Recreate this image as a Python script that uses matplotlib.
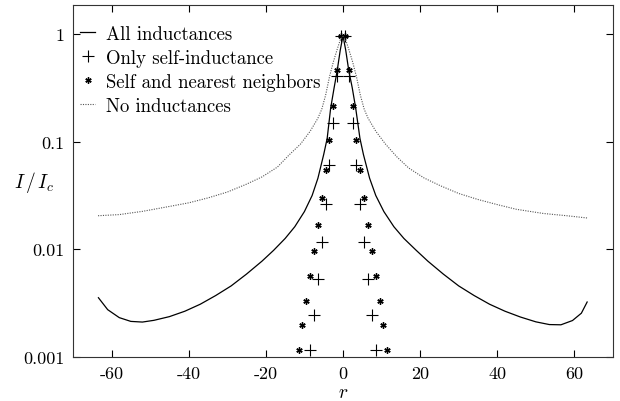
import matplotlib
matplotlib.use("Agg")
import matplotlib.pyplot as plt
from matplotlib.ticker import FixedLocator, FixedFormatter, NullLocator

plt.rcParams['font.family'] = ['cmr10', 'DejaVu Serif']
plt.rcParams['mathtext.fontset'] = 'cm'
plt.rcParams['axes.unicode_minus'] = False
plt.rcParams['axes.formatter.use_mathtext'] = False

# All inductances (solid)
r_all = [-63.4, -61, -58, -55, -52, -49, -45, -41, -37, -33, -29, -25, -21, -18,
         -15, -12.5, -10, -8, -6.5, -5, -4.1, -3.2, -2.3, -1.5, -0.7, 0,
         0.7, 1.5, 2.4, 3.3, 4.4, 5.3, 6.9, 8.5, 10.6, 13.2, 15.8, 19, 22, 26,
         30, 34, 38, 42, 46, 50, 53.5, 56.5, 59.5, 61.8, 63.3]
i_all = [0.00355, 0.00275, 0.00232, 0.00214, 0.00211, 0.00219, 0.00237, 0.00266,
         0.00309, 0.00372, 0.00457, 0.00589, 0.00776, 0.00977, 0.0126, 0.0162,
         0.0224, 0.0316, 0.0457, 0.0759, 0.107, 0.204, 0.316, 0.457, 0.71, 0.96,
         0.71, 0.457, 0.316, 0.204, 0.107, 0.0759, 0.0457, 0.0316, 0.0224,
         0.0162, 0.0126, 0.00977, 0.00776, 0.00589, 0.00457, 0.00372, 0.00309,
         0.00266, 0.00235, 0.00212, 0.00200, 0.00199, 0.00218, 0.00255, 0.00324]

# No inductances (dotted)
r_none = [-63.5, -58, -52, -45, -40, -35, -30, -25.2, -21, -17, -14, -11, -8.5,
          -6.5, -5.5, -4.5, -3.5, -2.5, -1.5, -0.7, 0, 0.7, 1.5, 2.5, 3.5, 4.5,
          5.5, 6.5, 8.5, 11, 14, 17, 21, 25.2, 30, 35, 40, 45, 52, 58, 63.5]
i_none = [0.0205, 0.021, 0.0225, 0.025, 0.027, 0.030, 0.034, 0.040, 0.047, 0.058,
          0.075, 0.095, 0.125, 0.165, 0.20, 0.27, 0.40, 0.55, 0.72, 0.88, 0.95,
          0.88, 0.72, 0.55, 0.40, 0.27, 0.20, 0.165, 0.125, 0.095, 0.072, 0.057,
          0.046, 0.039, 0.033, 0.029, 0.026, 0.0235, 0.0215, 0.0205, 0.0195]

# Only self-inductance (+)
r_self = [-8.5, -7.5, -6.5, -5.5, -4.5, -3.5, -2.5, -1.5, -0.5,
          0.5, 1.5, 2.5, 3.5, 4.5, 5.5, 6.5, 7.5, 8.5]
i_self = [0.00117, 0.00247, 0.00531, 0.0116, 0.0263, 0.0612, 0.150, 0.403, 0.95,
          0.95, 0.403, 0.150, 0.0612, 0.0263, 0.0116, 0.00531, 0.00247, 0.00117]

# Self and nearest neighbors (*)
r_nn = [-11.5, -10.5, -9.5, -8.5, -7.5, -6.5, -5.5, -4.5, -3.5, -2.5, -1.5, -0.5,
        0.5, 1.5, 2.5, 3.5, 4.5, 5.5, 6.5, 7.5, 8.5, 9.5, 10.5, 11.5]
i_nn = [0.00117, 0.00198, 0.00332, 0.00562, 0.00964, 0.0168, 0.0301, 0.0542,
        0.104, 0.212, 0.467, 0.95,
        0.95, 0.467, 0.212, 0.104, 0.0542, 0.0301, 0.0168, 0.00964, 0.00562,
        0.00332, 0.00198, 0.00117]

yticks = [0.001, 0.01, 0.1, 1]
ytick_labels = ['0.001', '0.01', '0.1', '1']
xticks = [-60, -40, -20, 0, 20, 40, 60]

fig = plt.figure(figsize=(6.2, 4.02), dpi=100)
ax = fig.add_axes([0.1177, 0.1095, 0.871, 0.8755])

ax.plot(r_all, i_all, '-', color='black', lw=0.9, label='All inductances')
ax.plot(r_self, i_self, linestyle='none', marker='+', color='black',
        markersize=8, markeredgewidth=0.8, label='Only self-inductance')
ax.plot(r_nn, i_nn, linestyle='none', marker=(6, 2, 0), color='black',
        markersize=4.5, markeredgewidth=1.0, label='Self and nearest neighbors')
ax.plot(r_none, i_none, linestyle=(0, (1, 1.2)), color='#555555', lw=0.8,
        label='No inductances')

ax.set_yscale('log')
ax.set_xlim(-70, 70)
ax.set_ylim(0.001, 1.855)
ax.yaxis.set_major_locator(FixedLocator(yticks))
ax.yaxis.set_major_formatter(FixedFormatter(ytick_labels))
ax.yaxis.set_minor_locator(NullLocator())
ax.set_xticks(xticks)
ax.set_xticklabels([str(v) for v in xticks])

ax.tick_params(axis='both', which='major', direction='in', length=5, width=0.8,
               top=True, right=True, labelsize=13, pad=6)
for s in ax.spines.values():
    s.set_linewidth(0.8)
    s.set_color('#333333')

ax.set_xlabel('$r$', fontsize=14, labelpad=2)
ax.set_ylabel('$I\\,/\\,I_c$', fontsize=14, rotation=0, va='center', ha='center')
ax.yaxis.set_label_coords(-0.072, 0.5)

leg = ax.legend(loc='upper left', bbox_to_anchor=(-0.007, 0.975), frameon=False,
                fontsize=13.5, handlelength=0.8, handletextpad=0.55,
                labelspacing=0.32, borderaxespad=0.2)

fig.savefig('out.png', dpi=100)
